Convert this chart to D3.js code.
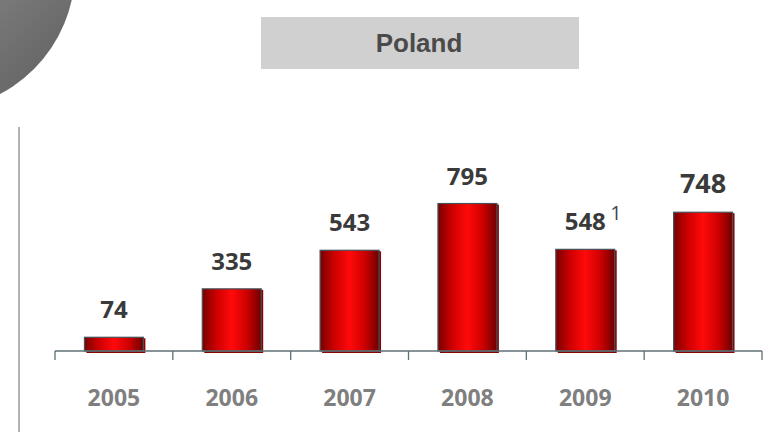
<!DOCTYPE html>
<html>
<head>
<meta charset="utf-8">
<script src="https://cdn.jsdelivr.net/npm/d3@7"></script>
<style>
  body { margin: 0; background: #fff; }
  svg { display: block; }
</style>
</head>
<body>
<div id="chart"></div>
<script>
// data
var years = ["2005", "2006", "2007", "2008", "2009", "2010"];
var values = [74, 335, 543, 795, 548, 748];
var notes = ["", "", "", "", "1", ""];
var title = "Poland";

var width = 778, height = 432;

var svg = d3.select("#chart")
  .append("svg")
  .attr("width", width)
  .attr("height", height);

var defs = svg.append("defs");

// bar gradient: dark edges, bright red centre
var barGrad = defs.append("linearGradient")
  .attr("id", "barGrad")
  .attr("x1", "0%").attr("x2", "100%")
  .attr("y1", "0%").attr("y2", "0%");
barGrad.append("stop").attr("offset", "0%").attr("stop-color", "#7a0000");
barGrad.append("stop").attr("offset", "25%").attr("stop-color", "#d00000");
barGrad.append("stop").attr("offset", "50%").attr("stop-color", "#ff0a0a");
barGrad.append("stop").attr("offset", "75%").attr("stop-color", "#d00000");
barGrad.append("stop").attr("offset", "100%").attr("stop-color", "#6e0000");

// grey disc in the corner
var discGrad = defs.append("linearGradient")
  .attr("id", "discGrad")
  .attr("x1", "0%").attr("y1", "0%")
  .attr("x2", "100%").attr("y2", "100%");
discGrad.append("stop").attr("offset", "0%").attr("stop-color", "#b4b4b4");
discGrad.append("stop").attr("offset", "100%").attr("stop-color", "#5c5c5c");

svg.append("circle")
  .attr("cx", -65)
  .attr("cy", -30)
  .attr("r", 140)
  .attr("fill", "url(#discGrad)");

// title box
svg.append("rect")
  .attr("x", 261)
  .attr("y", 17)
  .attr("width", 318)
  .attr("height", 52)
  .attr("fill", "#d0d0d0");

svg.append("text")
  .attr("x", 419)
  .attr("y", 52)
  .attr("text-anchor", "middle")
  .style("font-family", "Liberation Sans, Arial, sans-serif")
  .style("font-weight", "bold")
  .style("font-size", "26px")
  .style("fill", "#4a4a4a")
  .text(title);

// left divider line
svg.append("line")
  .attr("x1", 19).attr("x2", 19)
  .attr("y1", 127).attr("y2", 432)
  .attr("stroke", "#9a9a9a")
  .attr("stroke-width", 1.5);

// scales
var x = d3.scaleBand()
  .domain(years)
  .range([55, 762])
  .paddingInner(0.5)
  .paddingOuter(0.25);

var xTicks = d3.scaleBand()
  .domain(years)
  .range([55, 762]);

var y = d3.scaleLinear()
  .domain([0, 1000])
  .range([351, 165.5]);

// bar shadows
svg.selectAll(".shadow")
  .data(values)
  .enter()
  .append("rect")
  .attr("class", "shadow")
  .attr("x", function(d, i) { return x(years[i]) + 2; })
  .attr("y", function(d) { return y(d) + 1; })
  .attr("width", x.bandwidth())
  .attr("height", function(d) { return y(0) - y(d) + 1; })
  .attr("fill", "#8a0000");

// bars
svg.selectAll(".bar")
  .data(values)
  .enter()
  .append("rect")
  .attr("class", "bar")
  .attr("x", function(d, i) { return x(years[i]); })
  .attr("y", function(d) { return y(d); })
  .attr("width", x.bandwidth())
  .attr("height", function(d) { return y(0) - y(d); })
  .attr("fill", "url(#barGrad)")
  .attr("stroke", "#44535a")
  .attr("stroke-width", 1.2);

// axis line with ticks between categories
var axis = svg.append("g").attr("stroke", "#5f6f75").attr("stroke-width", 1.3);
axis.append("line")
  .attr("x1", 55).attr("x2", 762)
  .attr("y1", y(0)).attr("y2", y(0));
var tickPos = years.map(function(d) { return xTicks(d); }).concat([762]);
axis.selectAll(".tick")
  .data(tickPos)
  .enter()
  .append("line")
  .attr("x1", function(d) { return d; })
  .attr("x2", function(d) { return d; })
  .attr("y1", y(0))
  .attr("y2", y(0) + 9);

// value labels
svg.selectAll(".val")
  .data(values)
  .enter()
  .append("text")
  .attr("class", "val")
  .attr("x", function(d, i) { return x(years[i]) + x.bandwidth() / 2; })
  .attr("y", function(d) { return y(d) - 19; })
  .attr("text-anchor", "middle")
  .style("font-family", "Open Sans, sans-serif")
  .style("font-weight", "bold")
  .style("font-size", function(d, i) { return i === 5 ? "27px" : "24px"; })
  .style("fill", "#3a3a3a")
  .text(function(d) { return d; });

// footnote marker
svg.selectAll(".note")
  .data(values)
  .enter()
  .filter(function(d, i) { return notes[i] !== ""; })
  .append("text")
  .attr("class", "note")
  .attr("x", function(d) { var i = values.indexOf(d); return x(years[i]) + x.bandwidth() / 2 + 25; })
  .attr("y", function(d) { return y(d) - 29; })
  .style("font-family", "Open Sans, sans-serif")
  .style("font-size", "20px")
  .style("fill", "#3a4a50")
  .text(function(d) { return notes[values.indexOf(d)]; });

// year labels
svg.selectAll(".year")
  .data(years)
  .enter()
  .append("text")
  .attr("class", "year")
  .attr("x", function(d) { return x(d) + x.bandwidth() / 2; })
  .attr("y", 406)
  .attr("text-anchor", "middle")
  .style("font-family", "Open Sans, sans-serif")
  .style("font-weight", "bold")
  .style("font-size", "23px")
  .style("fill", "#7f7f7f")
  .text(function(d) { return d; });
</script>
</body>
</html>
